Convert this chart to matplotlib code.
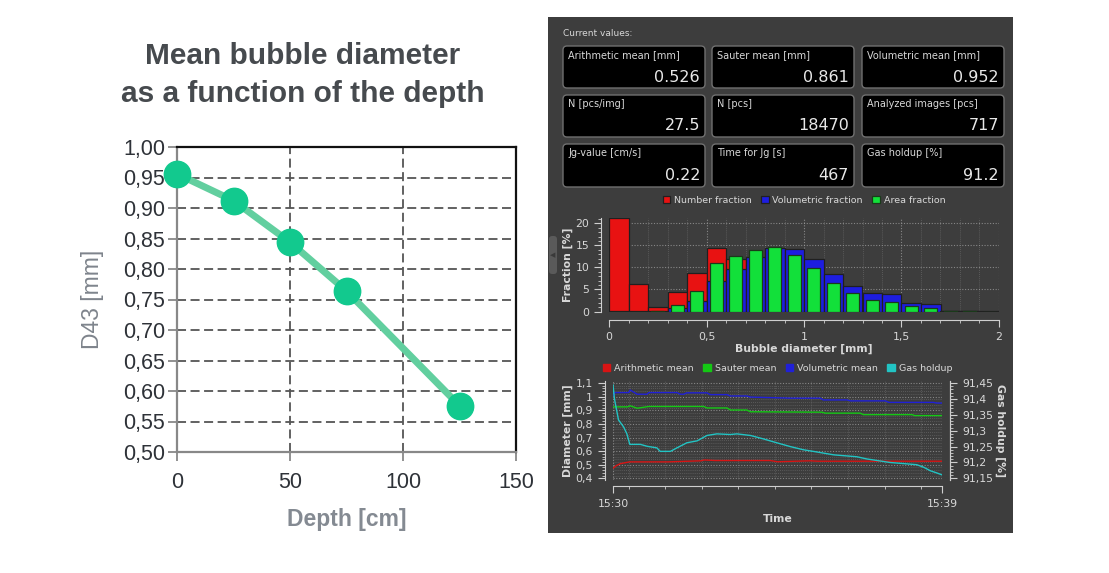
import matplotlib
matplotlib.use("Agg")
import matplotlib.pyplot as plt
from matplotlib.patches import FancyBboxPatch, Rectangle, Patch
from matplotlib.ticker import FuncFormatter, MultipleLocator, FixedLocator

W, H = 1109, 573

# ---- left chart: mean bubble diameter vs depth
depth_cm = [0, 25, 50, 75, 125]
d43_mm = [0.956, 0.912, 0.844, 0.764, 0.576]

# ---- current values panel
box_labels = ["Arithmetic mean [mm]", "Sauter mean [mm]", "Volumetric mean [mm]",
              "N [pcs/img]", "N [pcs]", "Analyzed images [pcs]",
              "Jg-value [cm/s]", "Time for Jg [s]", "Gas holdup [%]"]
box_values = ["0.526", "0.861", "0.952", "27.5", "18470", "717", "0.22", "467", "91.2"]

# ---- histogram (bins of 0.1 mm)
bin_left = [i / 10 for i in range(20)]
number_frac = [21.1, 6.2, 1.1, 4.5, 8.8, 14.3, 11.8, 9.5, 6.5, 4.0, 2.5, 1.5, 0.8, 0.5, 0.3, 0.2, 0.1, 0.05, 0.05, 0.0]
volumetric_frac = [0.1, 0.1, 0.2, 0.7, 2.5, 7.0, 9.7, 12.3, 14.5, 14.2, 11.8, 8.4, 5.7, 4.1, 3.9, 2.0, 1.6, 0.2, 0.2, 0.1]
area_frac = [0.0, 0.0, 0.05, 1.4, 4.7, 11.0, 12.5, 14.0, 14.6, 12.8, 9.8, 6.4, 4.1, 2.7, 2.2, 1.2, 0.8, 0.1, 0.05, 0.0]

# ---- time series (minutes after 15:30)
arith_t = [0, 0.1, 0.2, 0.45, 1.5, 2.4, 2.5, 2.8, 3.2, 4.3, 4.5, 5.0, 5.4, 5.6, 9.0]
arith_v = [0.475, 0.495, 0.508, 0.521, 0.521, 0.529, 0.535, 0.531, 0.531, 0.531, 0.522, 0.526, 0.529, 0.526, 0.526]
sauter_t = [0, 0.4, 0.47, 0.66, 0.98, 2.48, 2.57, 3.12, 3.21, 3.66, 3.76, 5.72, 5.8, 6.76, 6.85, 8.18, 8.25, 9.0]
sauter_v = [0.925, 0.925, 0.933, 0.915, 0.928, 0.928, 0.917, 0.917, 0.902, 0.902, 0.889, 0.886, 0.879, 0.879, 0.868, 0.868, 0.861, 0.861]
volum_t = [0, 0.05, 0.43, 0.47, 0.66, 0.93, 0.98, 1.75, 1.84, 1.93, 2.02, 2.57, 2.66, 3.12, 3.21, 3.66, 3.76, 4.85, 5.67, 5.75, 6.4, 6.5, 7.45, 7.55, 8.77, 8.85, 9.0]
volum_v = [1.005, 1.03, 1.03, 1.049, 1.018, 1.018, 1.03, 1.03, 1.018, 1.018, 1.028, 1.028, 1.015, 1.015, 1.005, 1.005, 0.997, 0.989, 0.989, 0.976, 0.976, 0.969, 0.969, 0.958, 0.958, 0.953, 0.953]
holdup_t = [0, 0.04, 0.15, 0.29, 0.38, 0.46, 0.75, 0.93, 1.2, 1.29, 1.57, 1.75, 2.02, 2.3, 2.57, 2.84, 3.21, 3.39, 3.76, 4.12,
            4.48, 4.85, 5.21, 5.58, 6.04, 6.67, 6.95, 7.58, 8.31, 8.5, 8.68, 8.86, 9.0]
holdup_v = [91.444, 91.400, 91.334, 91.312, 91.290, 91.257, 91.257, 91.251, 91.246, 91.235, 91.235, 91.246, 91.262, 91.268,
            91.285, 91.290, 91.288, 91.290, 91.285, 91.274, 91.262, 91.250, 91.240, 91.233, 91.224, 91.218, 91.211, 91.200,
            91.193, 91.185, 91.174, 91.167, 91.161]


def rect(x0, y0, x1, y1):
    return [x0 / W, 1 - y1 / H, (x1 - x0) / W, (y1 - y0) / H]


def comma(fmt):
    return FuncFormatter(lambda v, p: fmt(v).replace(".", ","))


def short_num(v):
    return f"{v:.2f}".rstrip("0").rstrip(".")


fig = plt.figure(figsize=(W / 100, H / 100), dpi=100)
fig.patch.set_facecolor("white")

# background overlay in pixel coordinates
bg = fig.add_axes([0, 0, 1, 1], zorder=0)
bg.set_xlim(0, W)
bg.set_ylim(H, 0)
bg.axis("off")

# ================= left chart =================
for y, line in [(56, "Mean bubble diameter"), (94, "as a function of the depth")]:
    bg.text(303, y, line, ha="center", va="center", fontsize=21.5,
            fontweight="bold", color="#464a4e", family="Liberation Sans")

ax1 = fig.add_axes(rect(177, 147, 516, 452), zorder=2)
ax1.plot(depth_cm, d43_mm, color="#62cf9f", lw=5, zorder=3, solid_capstyle="round")
ax1.plot(depth_cm, d43_mm, "o", color="#12c98e", ms=19, zorder=4, clip_on=False)
ax1.set_xlim(0, 150)
ax1.set_ylim(0.5, 1.0)
ax1.set_xticks([0, 50, 100, 150])
ax1.set_yticks([0.5 + 0.05 * i for i in range(11)])
ax1.yaxis.set_major_formatter(comma(lambda v: f"{v:.2f}"))
for x in [50, 100]:
    ax1.axvline(x, color="#555555", lw=1.3, ls=(0, (5, 2.5)), zorder=1)
for i in range(1, 10):
    ax1.axhline(0.5 + 0.05 * i, color="#555555", lw=1.3, ls=(0, (5, 2.5)), zorder=1)
ax1.tick_params(direction="out", length=6.5, width=1.3, color="#888888",
                labelsize=15.5, labelcolor="#2e3238")
ax1.tick_params(axis="x", pad=8)
ax1.tick_params(axis="y", pad=2)
for lab in ax1.get_xticklabels() + ax1.get_yticklabels():
    lab.set_family("Liberation Sans")
for s in ["top", "right"]:
    ax1.spines[s].set_color("#111111")
    ax1.spines[s].set_linewidth(1.6)
for s in ["left", "bottom"]:
    ax1.spines[s].set_color("#888888")
    ax1.spines[s].set_linewidth(1.6)
ax1.set_xlabel("Depth [cm]", fontsize=16.5, fontweight="bold", color="#848a92",
               family="Liberation Sans", labelpad=10.5)
ax1.set_ylabel("D43 [mm]", fontsize=16.5, color="#7e848c", family="Liberation Sans", labelpad=14)

# ================= right panel =================
panel_bg = "#3d3d3d"
txt = "#d8d8d8"
bg.add_patch(Rectangle((548, 17), 465, 516, facecolor=panel_bg, edgecolor="none"))
bg.add_patch(FancyBboxPatch((549, 236), 8, 38, boxstyle="round,pad=0,rounding_size=3",
                            facecolor="#5a5a5a", edgecolor="none"))
bg.text(553, 255, "◀", ha="center", va="center", fontsize=5, color="#3a3a3a")
bg.text(563, 34, "Current values:", ha="left", va="center", fontsize=6.5, color=txt)

cols = [(563, 705), (712, 854), (862, 1004)]
rows = [(46, 88), (95, 137), (144, 187)]
for k, (lab, val) in enumerate(zip(box_labels, box_values)):
    x0, x1 = cols[k % 3]
    y0, y1 = rows[k // 3]
    bg.add_patch(FancyBboxPatch((x0, y0), x1 - x0, y1 - y0,
                                boxstyle="round,pad=0,rounding_size=4",
                                facecolor="black", edgecolor="#707070", lw=1))
    bg.text(x0 + 5, y0 + 9, lab, ha="left", va="center", fontsize=7, color=txt)
    bg.text(x1 - 5, y1 - 11, val, ha="right", va="center", fontsize=11.5, color="#e8e8e8")


def style_dark(ax):
    ax.set_facecolor(panel_bg)
    for s in ax.spines.values():
        s.set_color("#cfcfcf")
    ax.spines["top"].set_visible(False)
    ax.tick_params(which="both", direction="out", color="#cfcfcf", labelcolor=txt, labelsize=7.8)
    ax.tick_params(which="major", length=5)
    ax.tick_params(which="minor", length=2.5)
    ax.grid(True, which="major", color="#a0a0a0", ls=(0, (1, 1.5)), lw=0.8, alpha=0.75)
    ax.grid(True, which="minor", color="#8a8a8a", ls=(0, (1, 1.5)), lw=0.6, alpha=0.5)
    ax.set_axisbelow(True)


# histogram
ax2 = fig.add_axes(rect(609, 218, 999, 312), zorder=2)
style_dark(ax2)
ax2.spines["right"].set_visible(False)
ax2.spines["left"].set_position(("outward", 5.5))
ax2.spines["bottom"].set_position(("outward", 6))
ax2.bar(bin_left, number_frac, width=0.1, align="edge", color="#e81212",
        edgecolor="#202020", lw=0.9, label="Number fraction", zorder=2)
ax2.bar(bin_left, volumetric_frac, width=0.1, align="edge", color="#1d1de0",
        edgecolor="#202020", lw=0.9, label="Volumetric fraction", zorder=3)
ax2.bar([b + 0.05 for b in bin_left], area_frac, width=0.066, align="center", color="#12e03a",
        edgecolor="#1a3a1a", lw=0.9, label="Area fraction", zorder=4)
ax2.set_xlim(0, 2)
ax2.set_ylim(-0.1, 21.2)
ax2.xaxis.set_major_locator(MultipleLocator(0.5))
ax2.xaxis.set_minor_locator(MultipleLocator(0.1))
ax2.yaxis.set_major_locator(FixedLocator([0, 5, 10, 15, 20]))
ax2.yaxis.set_minor_locator(MultipleLocator(1))
ax2.xaxis.set_major_formatter(comma(short_num))
ax2.grid(False, which="minor", axis="y")
ax2.set_xlabel("Bubble diameter [mm]", fontsize=7.8, fontweight="bold", color=txt, labelpad=1)
ax2.set_ylabel("Fraction [%]", fontsize=7.8, fontweight="bold", color=txt, labelpad=2)
ax2.legend(loc="center", bbox_to_anchor=(0.5, 1.19), ncol=3, frameon=False, fontsize=6.8,
           labelcolor=txt, handlelength=0.8, handleheight=0.8, handletextpad=0.4, columnspacing=1.0,
           borderaxespad=0)

# time series
ax3 = fig.add_axes(rect(613, 381, 942, 480), zorder=2)
style_dark(ax3)
ax3.spines["left"].set_position(("outward", 6))
ax3.spines["right"].set_position(("outward", 6))
ax3.spines["bottom"].set_position(("outward", 4))
ax3.plot(arith_t, arith_v, color="#d81414", lw=1)
ax3.plot(sauter_t, sauter_v, color="#14c814", lw=1)
ax3.plot(volum_t, volum_v, color="#2020d8", lw=1)
lo, hi = 0.388, 1.115
ax3.set_xlim(0, 9)
ax3.set_ylim(lo, hi)
ax3.yaxis.set_major_locator(MultipleLocator(0.1))
ax3.yaxis.set_minor_locator(MultipleLocator(0.02))
ax3.yaxis.set_major_formatter(comma(short_num))
ax3.set_xticks([0, 9])
ax3.set_xticklabels(["15:30", "15:39"])
ax3.xaxis.set_minor_locator(FixedLocator([0.43 + i for i in range(9)]))
ax3.tick_params(axis="x", pad=5)
ax3.set_xlabel("Time", fontsize=7.8, fontweight="bold", color=txt, labelpad=3)
ax3.set_ylabel("Diameter [mm]", fontsize=7.8, fontweight="bold", color=txt, labelpad=2)

ax4 = ax3.twinx()
ax4.spines["right"].set_position(("outward", 6))
for s in ["left", "top", "bottom"]:
    ax4.spines[s].set_visible(False)
ax4.spines["right"].set_color("#cfcfcf")
ax4.plot(holdup_t, holdup_v, color="#22c4c4", lw=1)
scale = 0.3 / 0.7
ax4.set_ylim(91.15 + (lo - 0.4) * scale, 91.15 + (hi - 0.4) * scale)
ax4.yaxis.set_major_locator(MultipleLocator(0.05))
ax4.yaxis.set_minor_locator(MultipleLocator(0.01))
ax4.yaxis.set_major_formatter(comma(short_num))
ax4.tick_params(which="both", direction="out", color="#cfcfcf", labelcolor=txt, labelsize=7.8)
ax4.tick_params(which="major", length=5)
ax4.tick_params(which="minor", length=2.5)
ax4.set_ylabel("Gas holdup [%]", fontsize=7.8, fontweight="bold", color=txt, rotation=270, labelpad=9)
series_handles = [Patch(color="#d81414", label="Arithmetic mean"),
                  Patch(color="#14c814", label="Sauter mean"),
                  Patch(color="#2020d8", label="Volumetric mean"),
                  Patch(color="#22c4c4", label="Gas holdup")]
ax3.legend(handles=series_handles, loc="center", bbox_to_anchor=(0.5, 1.13), ncol=4,
           frameon=False, fontsize=6.8, labelcolor=txt, handlelength=0.8, handleheight=0.8,
           handletextpad=0.4, columnspacing=1.0, borderaxespad=0)

fig.savefig("out.png", dpi=100, facecolor="white")
